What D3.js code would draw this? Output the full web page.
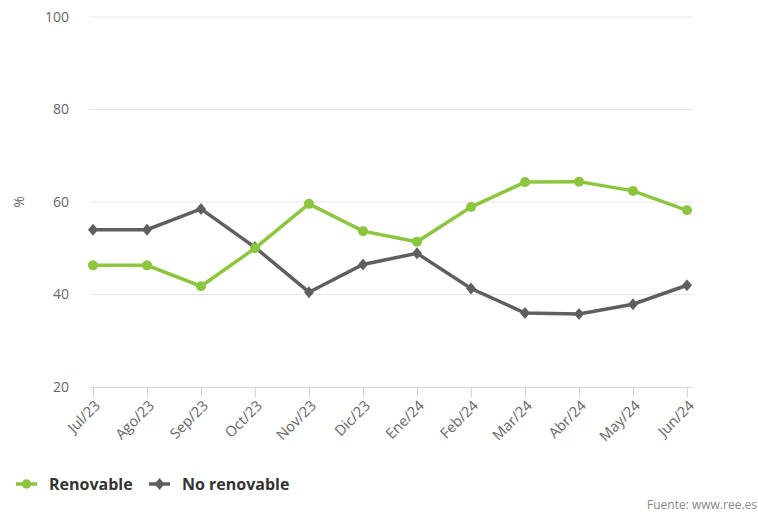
<!DOCTYPE html>
<html>
<head>
<meta charset="utf-8">
<script src="https://cdn.jsdelivr.net/npm/d3@7"></script>
<style>
  body { margin: 0; background: #fff; }
  svg { font-family: 'Open Sans', sans-serif; }
</style>
</head>
<body>
<div id="chart"></div>
<script>
// months on x
var months = ['Jul/23', 'Ago/23', 'Sep/23', 'Oct/23', 'Nov/23', 'Dic/23',
  'Ene/24', 'Feb/24', 'Mar/24', 'Abr/24', 'May/24', 'Jun/24']
// % of generation
var renovable = [46.3, 46.3, 41.8, 50.0, 59.6, 53.7, 51.4, 58.9, 64.3, 64.4, 62.4, 58.2]
var noRenovable = [54.0, 54.0, 58.5, 50.2, 40.5, 46.5, 48.9, 41.3, 36.0, 35.8, 37.9, 42.0]
var yTicks = [20, 40, 60, 80, 100]

var W = 758
var H = 512
var margin = { top: 17, right: 65, bottom: 125, left: 93 }

var svg = d3.select('#chart')
  .append('svg')
  .attr('width', W)
  .attr('height', H)

var x = d3.scalePoint()
  .domain(months)
  .range([margin.left, 687])

var y = d3.scaleLinear()
  .domain([20, 100])
  .range([387, margin.top])

// gridlines
svg.append('g')
  .selectAll('line')
  .data(yTicks.slice(1))
  .enter()
  .append('line')
  .attr('x1', 90)
  .attr('x2', 693)
  .attr('y1', function (d) { return y(d) })
  .attr('y2', function (d) { return y(d) })
  .attr('stroke', '#e6e6e6')
  .attr('stroke-width', 1)

// y labels
svg.append('g')
  .selectAll('text')
  .data(yTicks)
  .enter()
  .append('text')
  .attr('x', 69)
  .attr('y', function (d) { return y(d) })
  .attr('dy', '0.35em')
  .attr('text-anchor', 'end')
  .attr('fill', '#666')
  .style('font-size', '14px')
  .text(function (d) { return d })

// y title
svg.append('text')
  .attr('transform', 'translate(24,' + y(60) + ') rotate(-90)')
  .attr('text-anchor', 'middle')
  .attr('fill', '#666')
  .style('font-size', '14px')
  .text('%')

// x axis
var xAxis = d3.axisBottom(x).tickSize(10).tickSizeOuter(0)
var gx = svg.append('g')
  .attr('transform', 'translate(0,' + y(20) + ')')
  .call(xAxis)
gx.select('.domain').attr('stroke', '#ccd6eb').attr('d', 'M90,0.5H693')
gx.selectAll('.tick line').attr('stroke', '#ccd6eb')
gx.selectAll('.tick text')
  .attr('fill', '#666')
  .style('font-size', '14.5px')
  .style('font-family', "'Open Sans', sans-serif")
  .attr('text-anchor', 'end')
  .attr('transform', 'translate(4,16) rotate(-45)')
  .attr('dy', '0.35em')
  .attr('y', 0)

var line = d3.line()
  .x(function (d, i) { return x(months[i]) })
  .y(function (d) { return y(d) })

var green = '#8cc63f'
var grey = '#5f5f5f'

// no renovable line
svg.append('path')
  .datum(noRenovable)
  .attr('d', line)
  .attr('fill', 'none')
  .attr('stroke', grey)
  .attr('stroke-width', 3.5)

svg.append('g')
  .selectAll('path')
  .data(noRenovable)
  .enter()
  .append('path')
  .attr('d', 'M0,-6L5,0L0,6L-5,0Z')
  .attr('transform', function (d, i) { return 'translate(' + x(months[i]) + ',' + y(d) + ')' })
  .attr('fill', grey)

// renovable line
svg.append('path')
  .datum(renovable)
  .attr('d', line)
  .attr('fill', 'none')
  .attr('stroke', green)
  .attr('stroke-width', 3.5)

svg.append('g')
  .selectAll('circle')
  .data(renovable)
  .enter()
  .append('circle')
  .attr('cx', function (d, i) { return x(months[i]) })
  .attr('cy', function (d) { return y(d) })
  .attr('r', 5)
  .attr('fill', green)

// legend
var legend = [
  { name: 'Renovable', color: green, x: 16, shape: 'circle' },
  { name: 'No renovable', color: grey, x: 149, shape: 'diamond' }
]
var lg = svg.selectAll('.legend')
  .data(legend)
  .enter()
  .append('g')
  .attr('class', 'legend')
  .attr('transform', function (d) { return 'translate(' + d.x + ',484)' })

lg.append('line')
  .attr('x1', 0)
  .attr('x2', 21)
  .attr('stroke', function (d) { return d.color })
  .attr('stroke-width', 3.5)

lg.append('path')
  .attr('d', function (d) {
    return d.shape === 'circle' ? d3.symbol(d3.symbolCircle, 70)() : 'M0,-6L5,0L0,6L-5,0Z'
  })
  .attr('transform', 'translate(10.5,0)')
  .attr('fill', function (d) { return d.color })

lg.append('text')
  .attr('x', 33)
  .attr('dy', '0.35em')
  .attr('fill', '#333')
  .style('font-size', '16px')
  .style('font-weight', 'bold')
  .text(function (d) { return d.name })

// source
svg.append('text')
  .attr('x', 757)
  .attr('y', 509)
  .attr('text-anchor', 'end')
  .attr('fill', '#888')
  .style('font-size', '12px')
  .text('Fuente: www.ree.es')
</script>
</body>
</html>
